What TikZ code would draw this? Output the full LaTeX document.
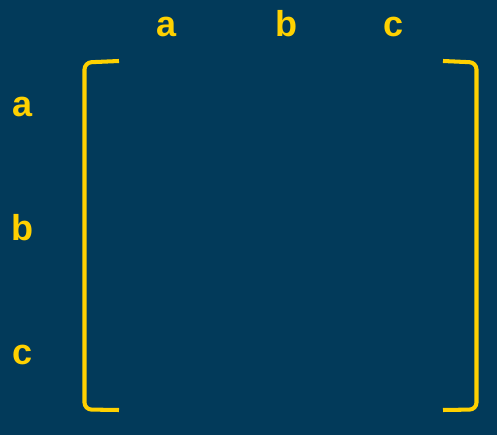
\documentclass[tikz,border=0pt]{standalone}
\usepackage{fontspec}
\setmainfont{Liberation Sans}
\definecolor{navy}{RGB}{2,58,90}
\definecolor{gold}{RGB}{255,209,0}

\begin{document}
\begin{tikzpicture}[x=0.02cm, y=-0.02cm]
		\tikzstyle{Label} = [text=gold, font=\fontsize{20.5}{24}\selectfont\bfseries, inner sep=0pt, anchor=base]
		\tikzstyle{Bracket} = [gold, line width=2.3pt, rounded corners=4]
		
		\fill [navy] (0,0) rectangle (497,435);
		\useasboundingbox (0,0) rectangle (497,435);
		
		%\draw[step=50,gray,very thin] (0,0) grid (497,435);
		
		\node (colA) [Label] at (167,37) {a};
		\node (colB) [Label] at (286,37) {b};
		\node (colC) [Label] at (394,37) {c};
		\node (rowA) [Label] at (22.5,117) {a};
		\node (rowB) [Label] at (22.5,241) {b};
		\node (rowC) [Label] at (22.5,365) {c};
		
		\coordinate (lTop) at (119,61);
		\coordinate (lBot) at (119,410);
		\coordinate (rTop) at (443,61);
		\coordinate (rBot) at (443,410);
		\draw [Bracket] (lTop) -- (84.5,62.5) -- (84.5,409.5) -- (lBot);
		\draw [Bracket] (rTop) -- (476.5,62.5) -- (476.5,409.5) -- (rBot);
		\end{tikzpicture}
\end{document}
